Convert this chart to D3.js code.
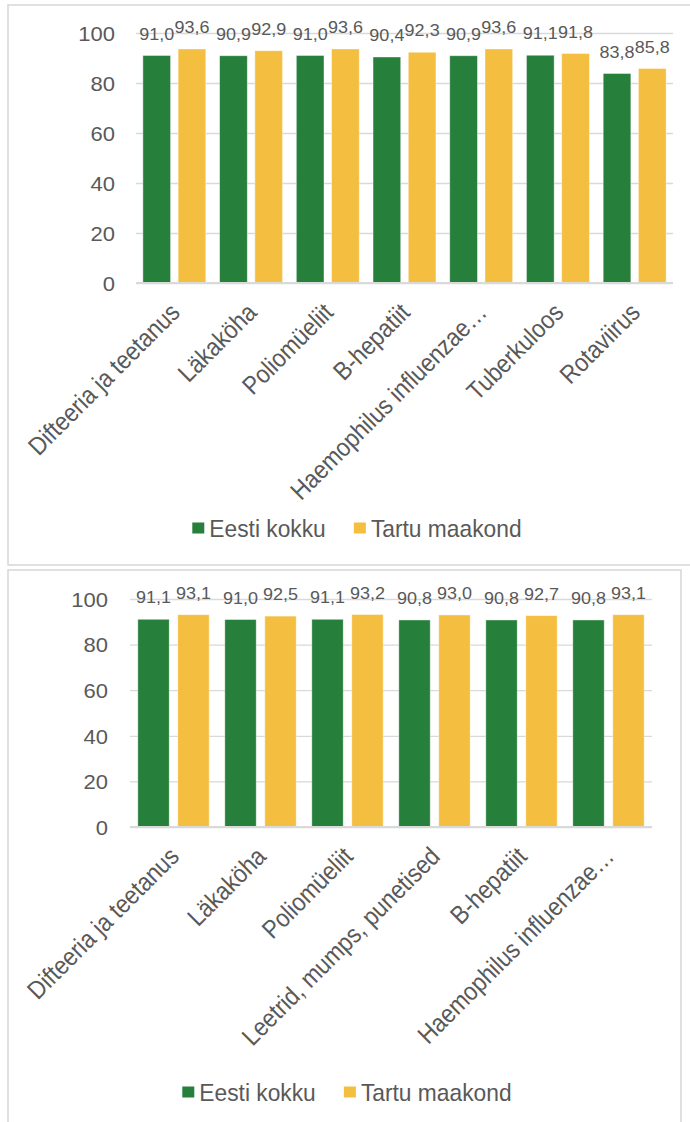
<!DOCTYPE html>
<html>
<head>
<meta charset="utf-8">
<script src="https://cdn.jsdelivr.net/npm/d3@7"></script>
<style>
  html, body { margin: 0; padding: 0; background: #ffffff; }
  svg { display: block; }
</style>
</head>
<body>
<svg id="chart" width="690" height="1122"></svg>
<script>
// ---------- DATA ----------
const seriesNames = ["Eesti kokku", "Tartu maakond"];
const seriesColors = ["#267F3A", "#F4BE40"];

const categoriesTop = ["Difteeria ja teetanus", "Läkaköha", "Poliomüeliit", "B-hepatiit", "Haemophilus influenzae…", "Tuberkuloos", "Rotaviirus"];
const eestiTop = [91.0, 90.9, 91.0, 90.4, 90.9, 91.1, 83.8];
const tartuTop = [93.6, 92.9, 93.6, 92.3, 93.6, 91.8, 85.8];

const categoriesBottom = ["Difteeria ja teetanus", "Läkaköha", "Poliomüeliit", "Leetrid, mumps, punetised", "B-hepatiit", "Haemophilus influenzae…"];
const eestiBottom = [91.1, 91.0, 91.1, 90.8, 90.8, 90.8];
const tartuBottom = [93.1, 92.5, 93.2, 93.0, 92.7, 93.1];

const yTicks = [0, 20, 40, 60, 80, 100];

// ---------- STYLE / LAYOUT ----------
const FONT = "'Liberation Sans', Arial, Helvetica, sans-serif";
const TEXT = "#595959";
const GRID = "#d9d9d9";

const svg = d3.select("#chart");
const locale = d3.formatLocale({decimal: ",", thousands: " ", grouping: [3], currency: ["", "€"]});
const fmt = locale.format(".1f");

function drawChart(cfg) {
  const g = svg.append("g");

  // frame
  g.append("rect")
    .attr("x", cfg.frame.x).attr("y", cfg.frame.y)
    .attr("width", cfg.frame.w).attr("height", cfg.frame.h)
    .attr("fill", "none").attr("stroke", GRID).attr("stroke-width", 1.6);

  const y = d3.scaleLinear().domain([0, 100]).range([cfg.plot.bottom, cfg.plot.top]);
  const x0 = d3.scaleBand().domain(cfg.categories).range([cfg.plot.left, cfg.plot.right]).padding(0);
  const bw = x0.bandwidth();
  const x1 = d3.scaleBand().domain(seriesNames).range([bw * 0.09, bw * 0.91]).paddingInner(0.215);

  // gridlines + y labels
  const pad = cfg.plot.left - cfg.yLabelX;
  const yAxis = d3.axisLeft(y).tickValues(yTicks).tickSize(-(cfg.plot.right - cfg.plot.left)).tickPadding(pad);
  const ag = g.append("g").attr("transform", `translate(${cfg.plot.left},0)`).call(yAxis);
  ag.select(".domain").remove();
  ag.selectAll(".tick line").attr("stroke", GRID).attr("stroke-width", 1.3);
  ag.selectAll(".tick text")
    .attr("x", null)
    .attr("dy", "0.36em")
    .attr("transform", `translate(${-pad},0) scale(1.1,1)`)
    .attr("fill", TEXT)
    .style("font-family", FONT)
    .style("font-size", "20px");

  // bars
  const rows = cfg.categories.map((c, i) => ({cat: c, values: [cfg.s1[i], cfg.s2[i]]}));
  const grp = g.selectAll(".grp").data(rows).enter().append("g")
    .attr("transform", d => `translate(${x0(d.cat)},0)`);
  grp.selectAll("rect").data(d => d.values.map((v, k) => ({k, v}))).enter().append("rect")
    .attr("x", d => x1(seriesNames[d.k]))
    .attr("y", d => y(d.v))
    .attr("width", x1.bandwidth())
    .attr("height", d => y(0) - y(d.v))
    .attr("fill", d => seriesColors[d.k])
    .attr("stroke", "#ffffff").attr("stroke-opacity", 0.5).attr("stroke-width", 0.8);

  // baseline
  g.append("line")
    .attr("x1", cfg.plot.left).attr("x2", cfg.plot.right)
    .attr("y1", y(0)).attr("y2", y(0))
    .attr("stroke", GRID).attr("stroke-width", 2);

  // data labels
  grp.selectAll("text.val").data(d => d.values.map((v, k) => ({k, v}))).enter().append("text")
    .attr("class", "val")
    .attr("text-anchor", "middle")
    .attr("transform", d => `translate(${x1(seriesNames[d.k]) + x1.bandwidth() / 2},${y(d.v) - 16}) scale(1.06,1)`)
    .attr("fill", TEXT)
    .style("font-family", FONT)
    .style("font-size", "17px")
    .text(d => fmt(d.v));

  // category labels
  g.selectAll(".xl").data(cfg.categories).enter().append("text")
    .attr("text-anchor", "end")
    .attr("transform", d => `translate(${x0(d) + bw / 2 + cfg.xlDx},${y(0) + cfg.xlDy}) rotate(-45) scale(0.89,1)`)
    .attr("fill", TEXT)
    .style("font-family", FONT)
    .style("font-size", "25.5px")
    .text(d => d);

  // legend
  const lg = g.append("g");
  const items = seriesNames.map((name, k) => {
    const it = lg.append("g");
    it.append("rect").attr("width", 12).attr("height", 11).attr("y", -5.5).attr("fill", seriesColors[k]);
    const t = it.append("text")
      .attr("dy", "0.36em")
      .attr("fill", TEXT)
      .style("font-family", FONT)
      .style("font-size", "24px")
      .text(name);
    const w = t.node().getComputedTextLength() * 0.95;
    t.attr("transform", `translate(17,0) scale(0.95,1)`);
    return {it, w: 17 + w};
  });
  const gap = 28;
  const total = d3.sum(items, d => d.w) + gap * (items.length - 1);
  let cx = cfg.legendCx - total / 2;
  items.forEach(d => { d.it.attr("transform", `translate(${cx},${cfg.legendY})`); cx += d.w + gap; });
}

drawChart({
  categories: categoriesTop, s1: eestiTop, s2: tartuTop,
  frame: {x: 8, y: 5, w: 720, h: 560},
  plot: {left: 136, right: 673, top: 33, bottom: 283},
  yLabelX: 115, xlDx: 7, xlDy: 31,
  legendCx: 357, legendY: 528
});

drawChart({
  categories: categoriesBottom, s1: eestiBottom, s2: tartuBottom,
  frame: {x: 8, y: 570, w: 673, h: 580},
  plot: {left: 130, right: 652, top: 599, bottom: 827},
  yLabelX: 108, xlDx: 7, xlDy: 31,
  legendCx: 347, legendY: 1092
});
</script>
</body>
</html>
